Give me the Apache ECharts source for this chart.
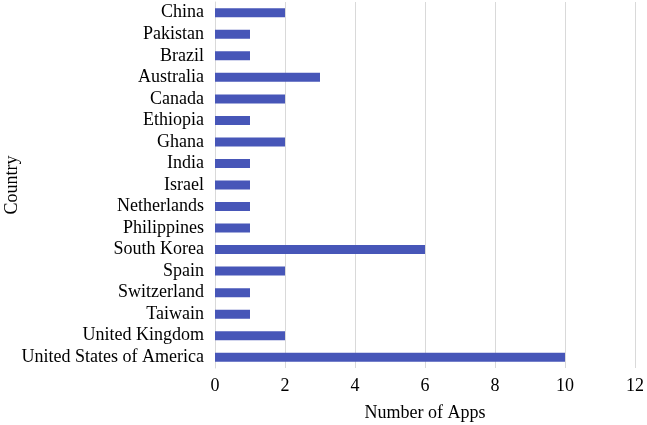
<!DOCTYPE html>
<html>
<head>
<meta charset="utf-8">
<script src="https://cdn.jsdelivr.net/npm/echarts@6/dist/echarts.min.js"></script>
<style>
  html, body { margin: 0; padding: 0; background: #fff; }
  #chart { width: 647px; height: 425px; }
</style>
</head>
<body>
<div id="chart"></div>
<script>
// 國家（由上而下）
const countries = [
    'China', 'Pakistan', 'Brazil', 'Australia', 'Canada', 'Ethiopia', 'Ghana',
    'India', 'Israel', 'Netherlands', 'Philippines', 'South Korea', 'Spain',
    'Switzerland', 'Taiwain', 'United Kingdom', 'United States of America'
];
// 各國 App 數量
const appCounts = [2, 1, 1, 3, 2, 1, 2, 1, 1, 1, 1, 6, 2, 1, 1, 2, 10];

const serif = '"Liberation Serif", "Times New Roman", serif';

const myChart = echarts.init(document.getElementById('chart'));

myChart.setOption({
    animation: false,
    grid: {
        left: 215,
        right: 12,
        top: 2,
        bottom: 57,
        containLabel: false,
        outerBoundsMode: 'none'
    },
    // Y 軸標題（直排）
    graphic: [{
        type: 'text',
        x: 12,
        y: 185,
        rotation: Math.PI / 2,
        style: {
            text: 'Country',
            font: '18px "Liberation Serif", serif',
            fill: '#000',
            align: 'center',
            verticalAlign: 'middle'
        }
    }],
    xAxis: {
        type: 'value',
        min: 0,
        max: 12,
        interval: 2,
        name: 'Number of Apps',
        nameLocation: 'middle',
        nameGap: 36,
        nameTextStyle: { fontFamily: serif, fontSize: 18, color: '#000' },
        axisLine: { show: false },
        axisTick: { show: false },
        axisLabel: { fontFamily: serif, fontSize: 18, color: '#000', margin: 9 },
        splitLine: { show: true, lineStyle: { color: '#d9d9d9', width: 1 } }
    },
    yAxis: {
        type: 'category',
        data: countries,
        inverse: true,
        axisLine: { show: true, lineStyle: { color: '#d9d9d9' } },
        axisTick: { show: false },
        axisLabel: { fontFamily: serif, fontSize: 18, color: '#000', margin: 11, interval: 0 }
    },
    series: [{
        type: 'bar',
        data: appCounts,
        barWidth: 9,
        itemStyle: { color: '#4756b8' }
    }]
});
</script>
</body>
</html>
